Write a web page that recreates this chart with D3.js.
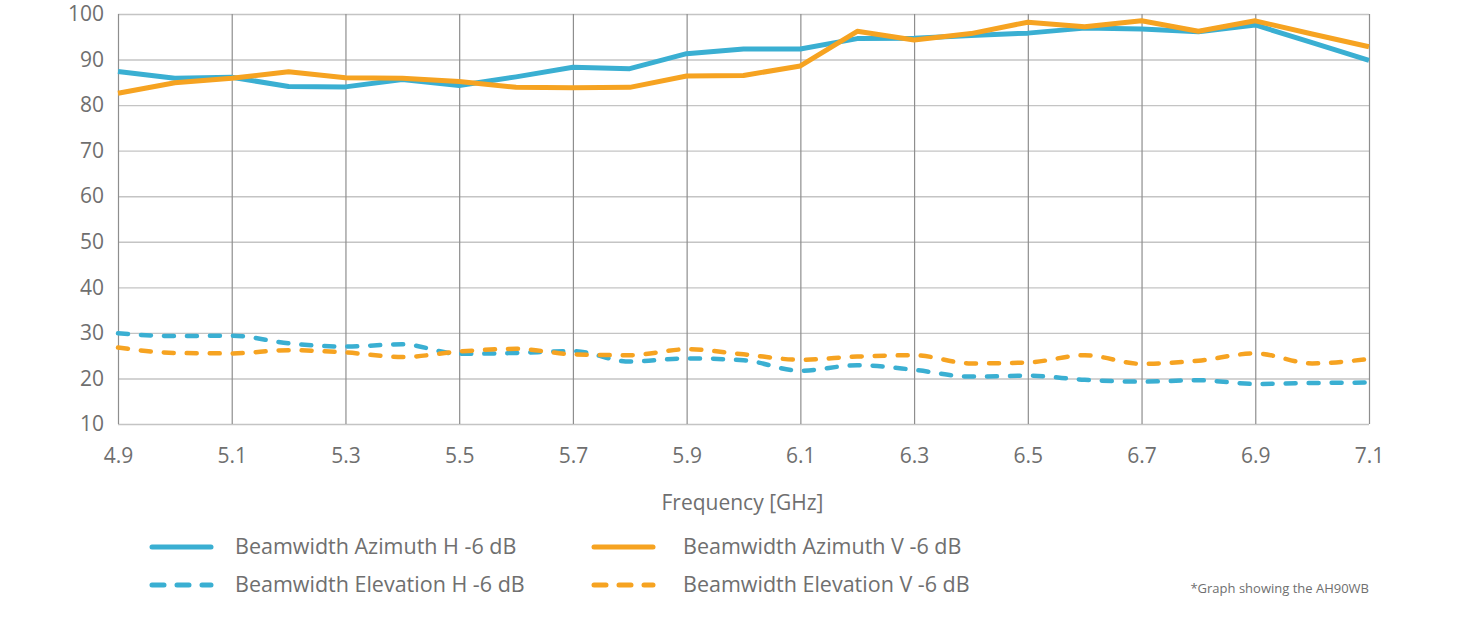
<!DOCTYPE html>
<html><head><meta charset="utf-8">
<script src="https://cdn.jsdelivr.net/npm/d3@7"></script>
<style>
html,body{margin:0;padding:0;background:#fff;}
svg text{font-family:"Open Sans",sans-serif;fill:#6f6f6f;}
</style></head>
<body>
<svg id="c" width="1462" height="636"></svg>
<script>
const freqs = [4.9,5.0,5.1,5.2,5.3,5.4,5.5,5.6,5.7,5.8,5.9,6.0,6.1,6.2,6.3,6.4,6.5,6.6,6.7,6.8,6.9,7.0,7.1];
const azimuthH = [87.4,85.9,86.1,84.1,84.0,85.6,84.3,86.2,88.3,88.0,91.3,92.3,92.3,94.6,94.7,95.3,95.8,96.9,96.7,96.1,97.6,93.7,89.8];
const azimuthV = [82.6,84.9,85.9,87.3,86.0,85.9,85.2,83.9,83.8,83.9,86.4,86.5,88.6,96.2,94.3,95.7,98.2,97.2,98.5,96.2,98.5,95.6,92.8];
const elevationH = [29.9,29.3,29.4,27.7,27.0,27.5,25.4,25.6,26.0,23.7,24.4,24.0,21.7,22.9,21.9,20.4,20.6,19.7,19.3,19.6,18.8,19.0,19.1];
const elevationV = [26.8,25.6,25.5,26.2,25.7,24.7,25.9,26.5,25.3,25.1,26.4,25.3,24.1,24.8,25.1,23.3,23.5,25.1,23.2,23.9,25.5,23.3,24.3];
const xTicks = [4.9,5.1,5.3,5.5,5.7,5.9,6.1,6.3,6.5,6.7,6.9,7.1];
const yTicks = [10,20,30,40,50,60,70,80,90,100];
const seriesNames = ["Beamwidth Azimuth H -6 dB","Beamwidth Azimuth V -6 dB","Beamwidth Elevation H -6 dB","Beamwidth Elevation V -6 dB"];
const footnote = "*Graph showing the AH90WB";
const xTitle = "Frequency [GHz]";

const BLUE = "#3aafd2", ORANGE = "#f6a321";
const series = [
  {name: seriesNames[0], values: azimuthH, color: BLUE, dashed: false},
  {name: seriesNames[1], values: azimuthV, color: ORANGE, dashed: false},
  {name: seriesNames[2], values: elevationH, color: BLUE, dashed: true},
  {name: seriesNames[3], values: elevationV, color: ORANGE, dashed: true}
];

const svg = d3.select("#c");
const L = 118, R = 1369, T = 14, B = 424;
const x = d3.scaleLinear().domain([4.9, 7.1]).range([L, R]);
const y = d3.scaleLinear().domain([10, 100]).range([B, T]);

// horizontal grid
svg.append("g").attr("transform", `translate(${L},0)`)
  .call(d3.axisLeft(y).tickValues(yTicks).tickSize(-(R - L)).tickFormat(""))
  .call(g => g.select(".domain").remove())
  .call(g => g.selectAll("line").attr("stroke", "#c4c4c4").attr("stroke-width", 1.4));
// vertical grid
svg.append("g").attr("transform", `translate(0,${B})`)
  .call(d3.axisBottom(x).tickValues(xTicks).tickSize(-(B - T)).tickFormat(""))
  .call(g => g.select(".domain").remove())
  .call(g => g.selectAll("line").attr("stroke", "#8e8e8e").attr("stroke-width", 1.2));

// y labels
svg.append("g").attr("transform", `translate(${L},0)`)
  .call(d3.axisLeft(y).tickValues(yTicks).tickSize(0).tickPadding(14).tickFormat(d3.format("d")))
  .call(g => g.select(".domain").remove())
  .call(g => g.selectAll("text").attr("font-size", 21).attr("fill", "#707070").attr("font-family", "Open Sans"));
// x labels
svg.append("g").attr("transform", `translate(0,${B})`)
  .call(d3.axisBottom(x).tickValues(xTicks).tickSize(0).tickPadding(24).tickFormat(d3.format(".1f")))
  .call(g => g.select(".domain").remove())
  .call(g => g.selectAll("text").attr("font-size", 21).attr("fill", "#707070").attr("font-family", "Open Sans"));

svg.append("text").attr("x", (L + R) / 2 - 1).attr("y", 510).attr("text-anchor", "middle")
  .attr("font-size", 21).attr("fill", "#747474").text(xTitle);

const lineStraight = d3.line().x((d, i) => x(freqs[i])).y(d => y(d));
const lineSmooth = d3.line().x((d, i) => x(freqs[i])).y(d => y(d)).curve(d3.curveMonotoneX);

series.forEach(s => {
  svg.append("path").datum(s.values)
    .attr("d", s.dashed ? lineSmooth : lineStraight)
    .attr("fill", "none").attr("stroke", s.color)
    .attr("stroke-width", s.dashed ? 4.5 : 5)
    .attr("stroke-linejoin", "round")
    .attr("stroke-linecap", s.dashed ? "round" : "butt")
    .attr("stroke-dasharray", s.dashed ? "10,13" : null);
});

// legend
const legPos = [[150, 547], [592, 547], [150, 585], [592, 585]];
series.forEach((s, i) => {
  const [lx, ly] = legPos[i];
  svg.append("line").attr("x1", lx + 2).attr("x2", lx + 61).attr("y1", ly).attr("y2", ly)
    .attr("stroke", s.color).attr("stroke-width", 5).attr("stroke-linecap", "round")
    .attr("stroke-dasharray", s.dashed ? "12,13" : null);
  svg.append("text").attr("x", lx + 85 + (i % 2 ? 6 : 0)).attr("y", ly + 7)
    .attr("font-size", 21.5).attr("fill", "#7a7a7a").text(s.name);
});

svg.append("text").attr("x", 1369).attr("y", 593).attr("text-anchor", "end")
  .attr("font-size", 13).attr("fill", "#707070").text(footnote);
</script>
</body></html>
